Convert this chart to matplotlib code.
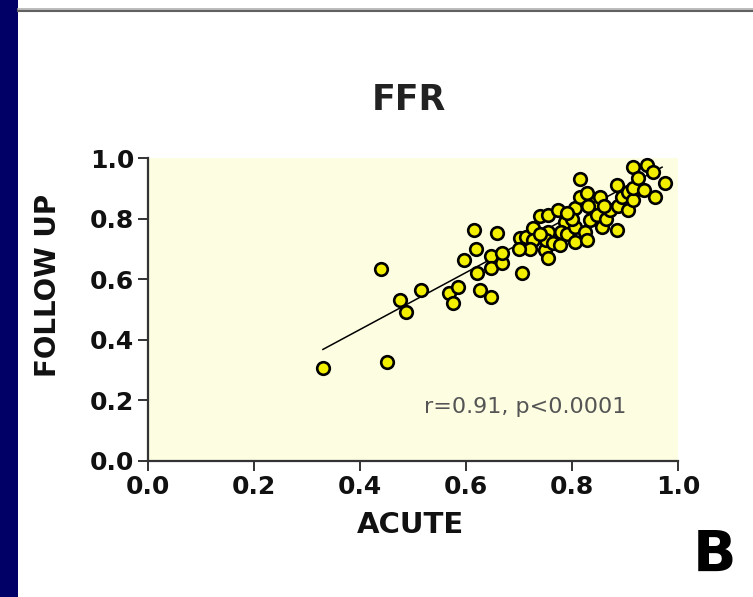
import numpy as np
import matplotlib
matplotlib.use("Agg")
import matplotlib.pyplot as plt
from matplotlib.lines import Line2D

# FFR acute vs follow-up values
acute = [0.330, 0.450, 0.440, 0.475, 0.487, 0.516, 0.567, 0.576, 0.585, 0.596,
         0.615, 0.618, 0.620, 0.626, 0.647, 0.647, 0.648, 0.658, 0.667, 0.668,
         0.705, 0.702, 0.714, 0.727, 0.727, 0.720, 0.700, 0.740, 0.749, 0.755,
         0.755, 0.755, 0.750, 0.764, 0.777, 0.774, 0.787, 0.780, 0.790, 0.806,
         0.806, 0.806, 0.815, 0.815, 0.825, 0.828, 0.828, 0.834, 0.843, 0.847,
         0.853, 0.856, 0.865, 0.872, 0.884, 0.884, 0.887, 0.894, 0.906, 0.906,
         0.916, 0.916, 0.916, 0.925, 0.935, 0.941, 0.953, 0.957, 0.975, 0.800,
         0.830, 0.860, 0.790, 0.740]
follow_up = [0.306, 0.328, 0.633, 0.531, 0.493, 0.564, 0.553, 0.520, 0.575, 0.663,
             0.762, 0.700, 0.619, 0.564, 0.542, 0.677, 0.636, 0.751, 0.652, 0.685,
             0.621, 0.735, 0.740, 0.768, 0.729, 0.700, 0.700, 0.810, 0.696, 0.669,
             0.812, 0.757, 0.730, 0.720, 0.713, 0.828, 0.790, 0.757, 0.750, 0.834,
             0.773, 0.724, 0.930, 0.870, 0.757, 0.883, 0.729, 0.795, 0.850, 0.812,
             0.870, 0.773, 0.800, 0.828, 0.762, 0.911, 0.840, 0.872, 0.889, 0.830,
             0.971, 0.861, 0.900, 0.933, 0.894, 0.977, 0.955, 0.872, 0.916, 0.800,
             0.840, 0.840, 0.820, 0.750]

# regression line as drawn
fit_x = [0.33, 0.97]
fit_slope = 0.94
fit_intercept = 0.058

ticks = [0.0, 0.2, 0.4, 0.6, 0.8, 1.0]
tick_labels = ["0.0", "0.2", "0.4", "0.6", "0.8", "1.0"]

W, H = 753, 597
fig = plt.figure(figsize=(W / 100, H / 100), dpi=100)
fig.patch.set_facecolor("white")

# slide decoration: navy bar on the left, grey rule at the top
fig.patches.append(plt.Rectangle((0, 0), 18 / W, 1, transform=fig.transFigure,
                                 facecolor="#000066", edgecolor="none"))
fig.add_artist(Line2D([18 / W, 1], [1 - 8.5 / H, 1 - 8.5 / H], transform=fig.transFigure,
                      color="#b0b0b0", lw=1.2))
fig.add_artist(Line2D([18 / W, 1], [1 - 10.5 / H, 1 - 10.5 / H], transform=fig.transFigure,
                      color="#606060", lw=1.5))

ax = fig.add_axes([148 / W, (H - 461) / H, 530 / W, 303 / H])
ax.set_facecolor("#fdfde2")

fx = np.array(fit_x)
ax.plot(fx, fit_slope * fx + fit_intercept, color="black", lw=1.1, zorder=2)
ax.scatter(acute, follow_up, s=82, facecolor="#f2ee00", edgecolor="black",
           linewidth=1.9, zorder=3, clip_on=False)

ax.set_xlim(0, 1)
ax.set_ylim(0, 1)
ax.set_xticks(ticks)
ax.set_yticks(ticks)
ax.set_xticklabels(tick_labels)
ax.set_yticklabels(tick_labels)
for s in ["top", "right"]:
    ax.spines[s].set_visible(False)
for s in ["left", "bottom"]:
    ax.spines[s].set_color("#333333")
    ax.spines[s].set_linewidth(1.6)
ax.tick_params(direction="out", length=7, width=1.4, color="#333333", pad=3,
               labelsize=18)
for lab in ax.get_xticklabels() + ax.get_yticklabels():
    lab.set_fontweight("bold")
    lab.set_color("#111111")

ax.text(0.711, 0.178, "r=0.91, p<0.0001", fontsize=16, color="#555555",
        ha="center", va="center")

fig.text(409 / W, 1 - 100 / H, "FFR", fontsize=25, fontweight="bold",
         color="#222222", ha="center", va="center")
fig.text(410 / W, 1 - 525 / H, "ACUTE", fontsize=21, fontweight="bold",
         color="#111111", ha="center", va="center")
fig.text(48 / W, 1 - 285 / H, "FOLLOW UP", fontsize=20, fontweight="bold",
         color="#111111", ha="center", va="center", rotation=90)
fig.text(714 / W, 1 - 556 / H, "B", fontsize=41, fontweight="bold",
         color="black", ha="center", va="center")

fig.savefig("out.png", dpi=100, facecolor="white")
